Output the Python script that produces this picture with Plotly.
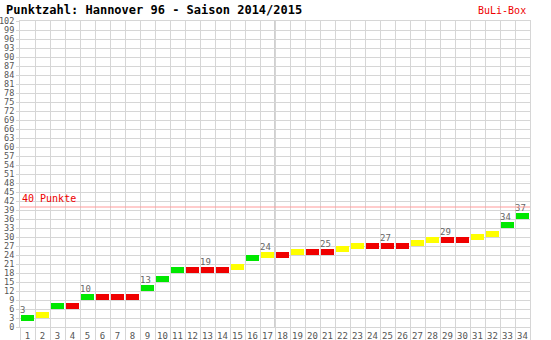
import plotly.graph_objects as go

matchdays = list(range(1, 35))
points = [3, 4, 7, 7, 10, 10, 10, 10, 13, 16, 19, 19, 19, 19, 20, 23, 24, 24, 25, 25,
          25, 26, 27, 27, 27, 27, 28, 29, 29, 29, 30, 31, 34, 37]
results = ["S", "U", "S", "N", "S", "N", "N", "N", "S", "S", "S", "N", "N", "N", "U", "S", "U",
           "N", "U", "N", "N", "U", "U", "N", "N", "N", "U", "U", "N", "N", "U", "U", "S", "S"]
label_days = [1, 5, 9, 13, 17, 21, 25, 29, 33, 34]
y_ticks = list(range(0, 103, 3))
target = 40

colors = {"S": "#00e800", "U": "#ffff00", "N": "#f00000"}
bar_h = 1.7
grid = "#d6d6d6"
mono = "DejaVu Sans Mono"

W, H = 551, 340
L, R, T, B = 20, 21, 21, 13
PW, PH = W - L - R, H - T - B

fig = go.Figure()
fig.add_trace(go.Bar(
    x=matchdays,
    y=[bar_h] * len(points),
    base=[p - bar_h / 2 for p in points],
    width=0.86,
    marker=dict(color=[colors[r] for r in results], line=dict(width=0)),
    hoverinfo="skip",
    showlegend=False,
))
fig.add_trace(go.Scatter(
    x=[d - 0.5 for d in label_days],
    y=[points[d - 1] + bar_h / 2 for d in label_days],
    mode="text",
    text=[str(points[d - 1]) for d in label_days],
    textposition="top right",
    textfont=dict(family=mono, size=9, color="#666666"),
    hoverinfo="skip",
    showlegend=False,
))

fig.add_shape(type="line", xref="x", yref="paper", x0=17.5, x1=17.5, y0=0, y1=1,
              line=dict(color="#d0d0d0", width=2), layer="below")
fig.add_shape(type="line", xref="paper", yref="y", x0=0, x1=1, y0=target, y1=target,
              line=dict(color="#ff9a9a", width=1), layer="above")
fig.add_annotation(x=0, y=target, xref="paper", yref="y", text=f"{target} Punkte",
                   showarrow=False, xanchor="left", yanchor="bottom", yshift=1,
                   font=dict(family=mono, size=10, color="#ee0000"))
fig.add_annotation(x=(528 - L) / PW, y=(H - B - 11) / PH, xref="paper", yref="paper",
                   text="BuLi-Box", showarrow=False, xanchor="right", yanchor="middle",
                   font=dict(family=mono, size=10, color="#ee0000"))

fig.update_layout(
    width=W, height=H,
    margin=dict(l=L, r=R, t=T, b=B, autoexpand=False),
    paper_bgcolor="white", plot_bgcolor="white",
    bargap=0,
    title=dict(text="<b>Punktzahl: Hannover 96 - Saison 2014/2015</b>",
               x=6 / W, xanchor="left", y=1 - 10 / H, yanchor="middle",
               font=dict(family=mono, size=12, color="#000000")),
    xaxis=dict(
        range=[0.5, 34.5], tickvals=matchdays, ticktext=[str(d) for d in matchdays],
        showgrid=False, ticks="", zeroline=False, automargin=False,
        tickfont=dict(family=mono, size=9, color="#555555"),
        showline=True, linecolor=grid, linewidth=1, mirror=True,
        minor=dict(tickvals=[d + 0.5 for d in range(0, 35)], showgrid=True, gridcolor=grid,
                   gridwidth=1, ticks="outside", ticklen=13, tickcolor=grid, tickwidth=1),
        fixedrange=True,
    ),
    yaxis=dict(
        range=[0, 102], tickvals=y_ticks, ticktext=[str(v) for v in y_ticks],
        showgrid=True, gridcolor=grid, gridwidth=1, zeroline=False, automargin=False,
        ticks="outside", ticklen=3, tickcolor=grid,
        tickfont=dict(family=mono, size=8.5, color="#555555"),
        showline=True, linecolor=grid, linewidth=1, mirror=True,
        fixedrange=True,
    ),
)

fig.write_html("out.html")
